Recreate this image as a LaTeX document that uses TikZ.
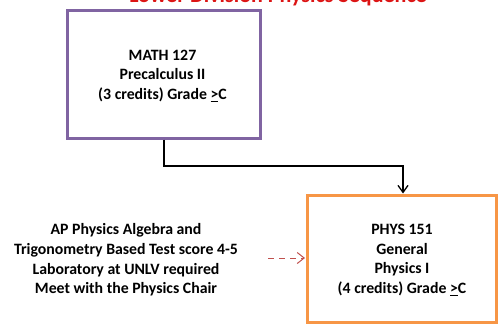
\documentclass[tikz,border=0pt]{standalone}
\usepackage{fontspec}
\setmainfont{Carlito}
\usetikzlibrary{arrows.meta}
\definecolor{purp}{RGB}{128,100,162}
\definecolor{orng}{RGB}{247,150,70}
\definecolor{dred}{RGB}{192,80,77}
\definecolor{tred}{RGB}{220,20,20}
\tikzset{
  txt/.style={font=\fontsize{15.8}{19.6}\selectfont\bfseries, align=center, text=black},
  pbox/.style={draw=purp, line width=3pt},
  obox/.style={draw=orng, line width=3pt}
}
\begin{document}
\begin{tikzpicture}[x=1pt,y=-1pt]
\useasboundingbox (0,0) rectangle (498,324);
\clip (0,0) rectangle (498,324);
\node[font=\fontsize{22}{24}\selectfont\bfseries, text=tred, anchor=base] (title) at (278,2.5) {Lower Division Physics Sequence};
\draw[pbox] (67,10) rectangle (260,138);
\node[txt] (math) at (162.5,76) {MATH 127\\Precalculus II\\(3 credits) Grade \underline{>}C};
\draw[obox] (307,195) rectangle (496,322);
\node[txt] (phys) at (402,260) {PHYS 151\\General\\Physics I\\(4 credits) Grade \underline{>}C};
\node[txt] (ap) at (126,260) {AP Physics Algebra and\\Trigonometry Based Test score 4-5\\Laboratory at UNLV required\\Meet with the Physics Chair};
\coordinate (mb) at (164,139.5);
\coordinate (pt) at (403,193.5);
\draw[line width=1.3pt, -{Straight Barb[length=7pt,width=10pt]}] (mb) |- (403,166) -- (pt);
\coordinate (ds) at (268,258);
\coordinate (de) at (305,258);
\draw[dred, line width=1pt, dashed, dash pattern=on 6pt off 5pt, -{Straight Barb[length=7pt,width=11pt]}] (ds) -- (de);
\end{tikzpicture}
\end{document}
